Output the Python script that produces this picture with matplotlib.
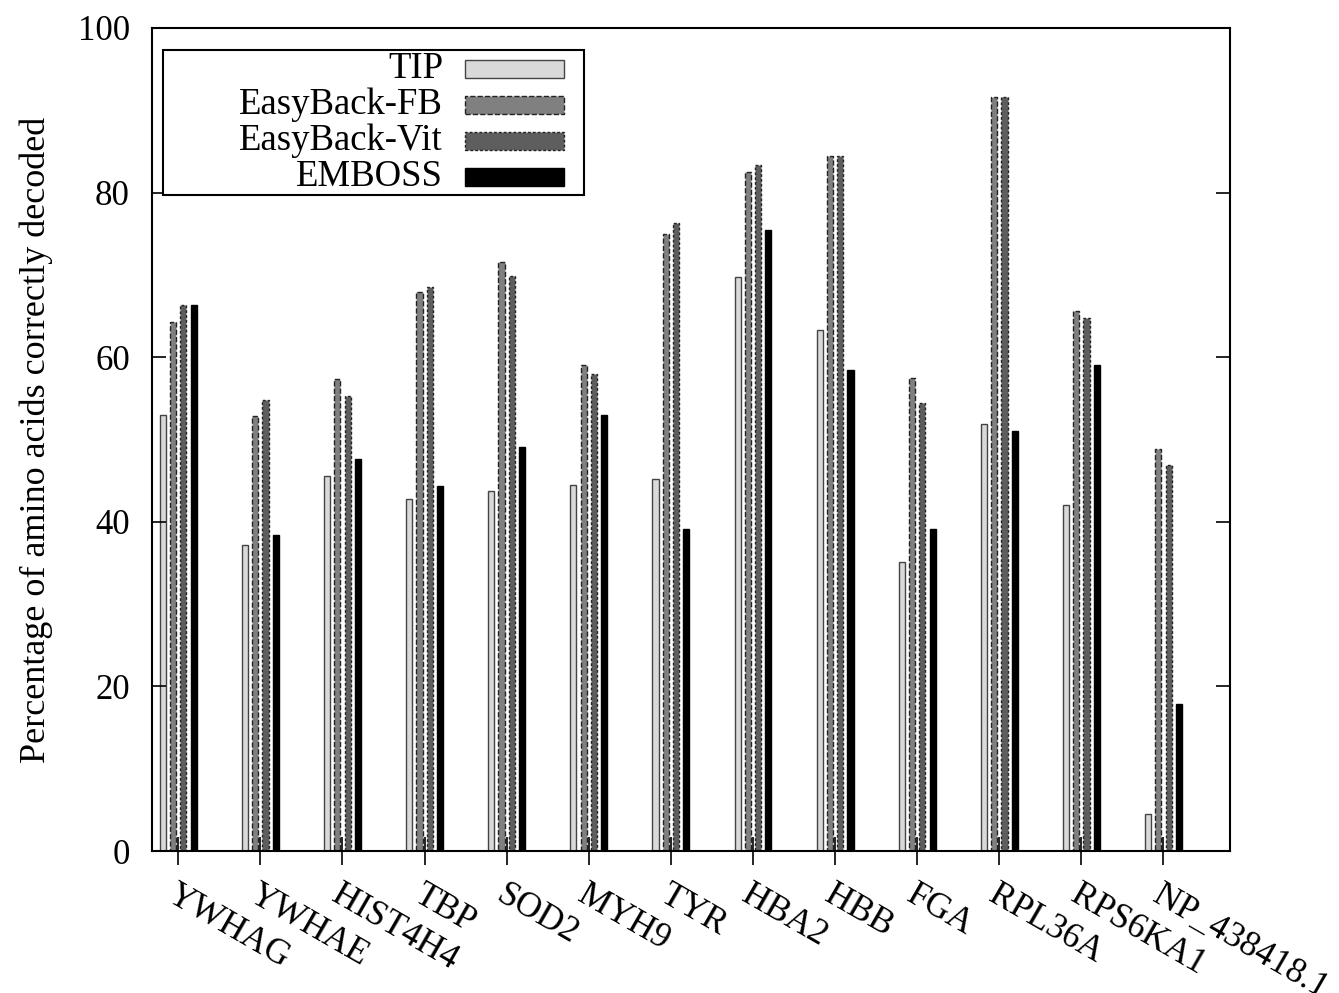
import numpy as np
import matplotlib
matplotlib.use("Agg")
import matplotlib.pyplot as plt
from matplotlib.patches import Rectangle

plt.rcParams["font.family"] = ["Liberation Serif", "DejaVu Serif"]

# data
genes = ["YWHAG", "YWHAE", "HIST4H4", "TBP", "SOD2", "MYH9", "TYR",
         "HBA2", "HBB", "FGA", "RPL36A", "RPS6KA1", "NP_438418.1"]
tip = [53.0, 37.2, 45.6, 42.8, 43.7, 44.5, 45.2, 69.8, 63.3, 35.1, 51.9, 42.0, 4.5]
easyback_fb = [64.3, 52.9, 57.3, 67.9, 71.6, 59.1, 75.0, 82.5, 84.4, 57.5, 91.6, 65.6, 48.9]
easyback_vit = [66.4, 54.8, 55.3, 68.5, 69.9, 58.0, 76.3, 83.3, 84.4, 54.4, 91.6, 64.8, 46.9]
emboss = [66.4, 38.4, 47.6, 44.3, 49.1, 53.0, 39.1, 75.4, 58.5, 39.1, 51.0, 59.0, 17.9]

series = [
    ("TIP", tip, dict(facecolor="#d9d9d9", edgecolor="#444444", linestyle="-")),
    ("EasyBack-FB", easyback_fb, dict(facecolor="#808080", edgecolor="#222222", linestyle="--")),
    ("EasyBack-Vit", easyback_vit, dict(facecolor="#5e5e5e", edgecolor="#222222", linestyle=(0, (2, 1.5)))),
    ("EMBOSS", emboss, dict(facecolor="black", edgecolor="black", linestyle="-")),
]

fig = plt.figure(figsize=(13.39, 9.93), dpi=100)
ax = fig.add_axes([152 / 1339, 1 - 851 / 993, 1078 / 1339, 823 / 993])

x = np.arange(len(genes))
step = 0.125
width = 0.075
for i, (name, vals, st) in enumerate(series):
    ax.bar(x + (i - 1.5) * step, vals, width=width, linewidth=1.0, **st)

ax.set_xlim(-0.32, 12.81)
ax.set_ylim(0, 100)
ax.set_yticks(np.arange(0, 101, 20))
ax.set_xticks(x)
ax.set_xticklabels(genes, rotation=-30, ha="left", va="top",
                   rotation_mode="anchor", fontsize=25.5)
ax.tick_params(axis="x", direction="inout", length=20, width=1.2, pad=10, top=False)
ax.tick_params(axis="y", direction="in", length=10, width=1.2, pad=16,
               right=True, labelsize=25)
for sp in ax.spines.values():
    sp.set_linewidth(1.5)
ax.set_ylabel("Percentage of amino acids correctly decoded", fontsize=26, labelpad=18)

# legend drawn by hand so the labels sit right-aligned in a wide box
ax.add_patch(Rectangle((0.0102, 0.797), 0.3905, 0.1763, transform=ax.transAxes,
                       facecolor="white", edgecolor="black", linewidth=1.5, zorder=5))
rows = [0.9502, 0.9065, 0.8627, 0.8189]
for (name, vals, st), yy in zip(series, rows):
    ax.text(0.270, yy, name, transform=ax.transAxes, ha="right", va="center",
            fontsize=26.5, zorder=6)
    ax.add_patch(Rectangle((0.2903, yy - 0.011), 0.0918, 0.022, transform=ax.transAxes,
                           linewidth=1.0, zorder=6, **st))

fig.savefig("out.png", dpi=100)
